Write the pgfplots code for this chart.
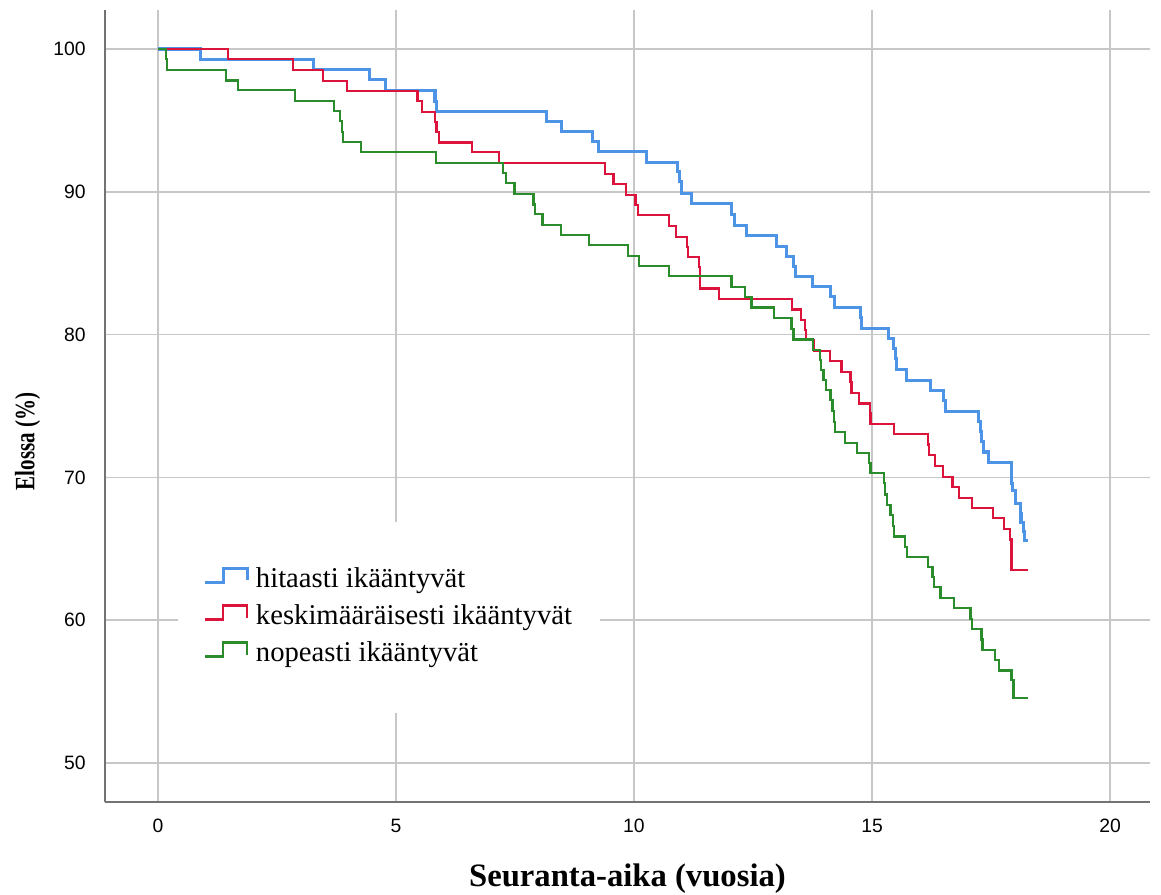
\documentclass[border=0pt]{standalone}
\usepackage{fontspec}
\setmainfont{Liberation Serif}
\setsansfont{Liberation Sans}
\usepackage{pgfplots}
\pgfplotsset{compat=1.18}

\definecolor{hidas}{HTML}{4D94E6}
\definecolor{keski}{HTML}{DC143C}
\definecolor{nopea}{HTML}{2A8C2A}

\begin{document}
\begin{tikzpicture}
\begin{axis}[
  scale only axis,
  width=783.75pt, height=594pt,
  xmin=-1.113, xmax=20.84,
  ymin=47.27, ymax=102.73,
  xtick={0,5,10,15,20},
  ytick={50,60,70,80,90,100},
  axis x line=bottom, axis y line=left,
  axis line style={-, draw=black!55, line width=1.4pt},
  major tick length=0pt,
  grid=major,
  major grid style={draw=black!22, line width=1.3pt},
  /pgf/number format/assume math mode=true,
  tick label style={font=\sffamily\fontsize{14.5}{16}\selectfont},
  yticklabel style={xshift=-11pt},
  xticklabel style={yshift=-9pt},
  xlabel={Seuranta-aika (vuosia)},
  xlabel style={font=\bfseries\fontsize{24.5}{28}\selectfont, at={(rel axis cs:0.5,0)}, yshift=-43pt},
  ylabel={\scalebox{0.75}[1]{Elossa (\%)}},
  ylabel style={font=\bfseries\fontsize{21}{24}\selectfont, at={(rel axis cs:0,0.455)}, anchor=center, yshift=58pt},
  legend cell align=left,
  legend image code/.code={\draw[#1] (-2pt,-1.5pt) -- (11.5pt,-1.5pt) -- (11.5pt,9pt) -- (29.5pt,9pt) -- (29.5pt,0pt);
    \path (33pt,0pt);},
  legend style={at={(axis cs:0.42,66.9)}, anchor=north west, fill=white, draw=none,
    inner xsep=19pt, inner ysep=30pt,
    font=\fontsize{21.5}{24}\selectfont, row sep=0pt,
    nodes={text height=16pt, text depth=5pt, inner ysep=3.4pt}},
]
\addplot[const plot, draw=hidas, line width=2.3pt] coordinates {
(0,100) (0.9,99.28) (3.26,98.53) (4.45,97.83) (4.77,97.06) (5.82,96.33) (5.85,95.6)
(8.17,94.9) (8.48,94.2) (9.13,93.5) (9.25,92.8) (10.27,92.06) (10.91,91.4) (10.95,90.7)
(11.0,89.89) (11.21,89.19) (12.04,88.4) (12.12,87.67) (12.37,86.97) (13.0,86.2)
(13.21,85.5) (13.36,84.8) (13.40,84.09) (13.75,83.34) (14.12,82.64) (14.22,81.9)
(14.75,81.2) (14.77,80.42) (15.34,79.72) (15.46,79.0) (15.49,78.3) (15.52,77.55)
(15.73,76.8) (16.22,76.1) (16.5,75.4) (16.55,74.63) (17.23,73.9) (17.27,73.2)
(17.30,72.5) (17.34,71.78) (17.44,71.05) (17.93,70.3) (17.94,69.6) (17.96,69.05)
(18.02,68.2) (18.11,67.5) (18.13,66.87) (18.18,66.2) (18.2,65.55) (18.28,65.55)
};
\addlegendentry{hitaasti ikääntyvät}
\addplot[const plot, draw=keski, line width=1.7pt] coordinates {
(0,100) (1.47,99.28) (2.83,98.53) (3.47,97.78) (3.97,97.06) (5.45,96.35) (5.54,95.6)
(5.82,94.9) (5.85,94.2) (5.91,93.46) (6.59,92.76) (7.17,91.99) (9.39,91.24) (9.57,90.52)
(9.83,89.8) (10.03,89.05) (10.08,88.35) (10.74,87.6) (10.88,86.85) (11.11,86.15)
(11.14,85.45) (11.37,84.75) (11.38,84.04) (11.39,83.23) (11.79,82.48) (13.32,81.76)
(13.51,81.0) (13.59,80.3) (13.62,79.6) (13.78,78.86) (14.12,78.14) (14.36,77.39)
(14.55,76.7) (14.57,75.92) (14.73,75.17) (14.96,74.47) (14.97,73.75) (15.46,73.02)
(16.18,72.3) (16.2,71.55) (16.32,70.8) (16.49,70.03) (16.69,69.33) (16.83,68.58)
(17.1,67.85) (17.54,67.16) (17.78,66.41) (17.9,65.65) (17.93,63.54) (18.28,63.54)
};
\addlegendentry{keskimääräisesti ikääntyvät}
\addplot[const plot, draw=nopea, line width=1.7pt] coordinates {
(0,100) (0.17,99.28) (0.19,98.53) (1.43,97.8) (1.68,97.13) (2.88,96.38) (3.70,95.68)
(3.82,94.98) (3.87,94.2) (3.89,93.5) (4.26,92.76) (5.84,91.99) (7.25,91.29) (7.31,90.59)
(7.49,89.84) (7.89,89.1) (7.92,88.42) (8.08,87.67) (8.47,86.97) (9.05,86.27) (9.88,85.51)
(10.11,84.79) (10.74,84.09) (12.05,83.34) (12.33,82.65) (12.47,81.9) (12.94,81.15)
(13.31,80.4) (13.35,79.66) (13.76,78.91) (13.90,78.2) (13.93,77.5) (13.98,76.8)
(14.03,76.1) (14.13,75.4) (14.17,74.65) (14.2,73.9) (14.22,73.18) (14.43,72.41)
(14.69,71.71) (14.93,71.0) (14.97,70.31) (15.25,69.6) (15.28,68.8) (15.31,68.05)
(15.39,67.35) (15.44,66.6) (15.46,65.87) (15.69,65.12) (15.73,64.42) (16.18,63.72)
(16.27,63.02) (16.3,62.32) (16.44,61.58) (16.73,60.85) (17.07,60.1) (17.1,59.4)
(17.3,58.65) (17.32,57.93) (17.58,57.23) (17.67,56.48) (17.93,55.8) (17.97,54.57)
(18.28,54.57)
};
\addlegendentry{nopeasti ikääntyvät}
\end{axis}
\pgfresetboundingbox
\path[use as bounding box] (-78.75pt,-69.75pt) rectangle (792pt,601.5pt);
\end{tikzpicture}
\end{document}
